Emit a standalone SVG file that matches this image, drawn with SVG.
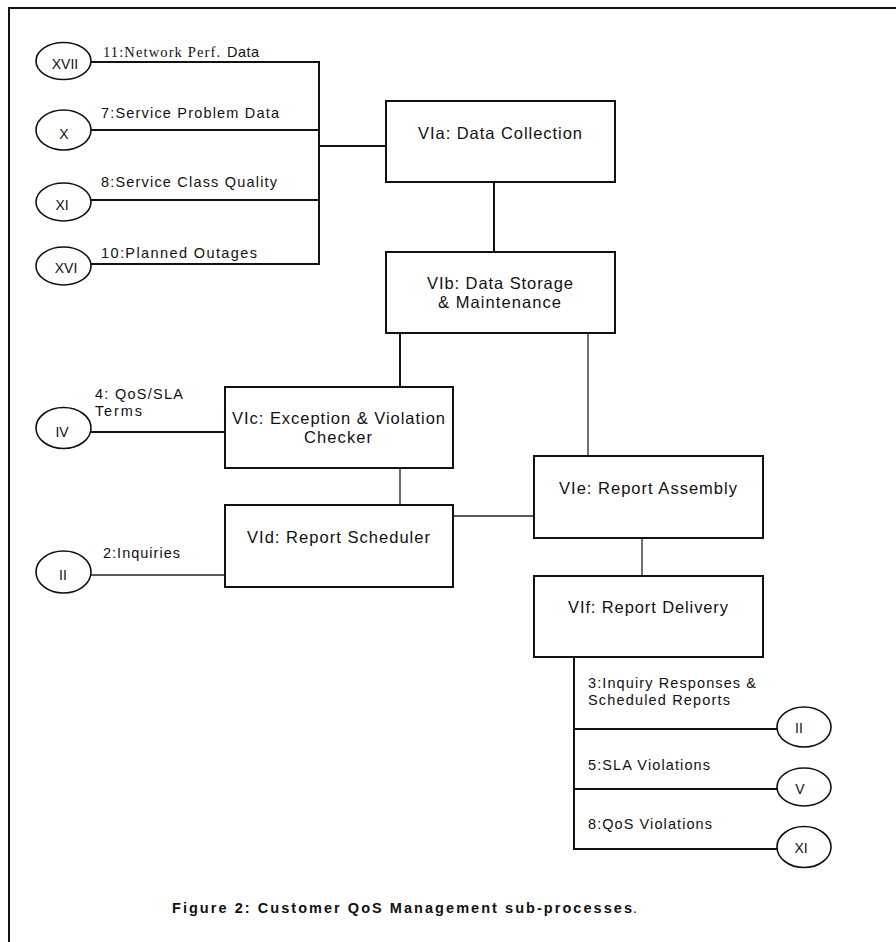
<svg xmlns="http://www.w3.org/2000/svg" width="896" height="942" viewBox="0 0 896 942">
  <style>
    .frame { stroke: #111; stroke-width: 2; fill: none; }
    .box { fill: #fff; stroke: #111; stroke-width: 2; }
    .ext { fill: #fff; stroke: #111; stroke-width: 1.6; }
    .wire { stroke: #111; stroke-width: 2; fill: none; }
    .thin { stroke: #222; stroke-width: 1.3; fill: none; }
    .lbl { font-family: "Liberation Sans", Arial, sans-serif; font-size: 16.5px; fill: #111; }
    .flow { font-family: "Liberation Sans", Arial, sans-serif; font-size: 14.5px; fill: #111; }
    .serif { font-family: "Liberation Serif", "Times New Roman", serif; font-size: 14.5px; fill: #111; }
    .ref { font-family: "Liberation Sans", Arial, sans-serif; font-size: 14px; fill: #111; }
    .cap { font-family: "Liberation Sans", Arial, sans-serif; font-size: 14.5px; font-weight: bold; fill: #111; }
  </style>
  <rect width="896" height="942" fill="#fff"/>

  <!-- page frame (top and left edges) -->
  <path class="frame" d="M9 942 V8 H896"/>

  <!-- connectors -->
  <g id="connectors">
    <path class="wire" d="M91 62 H319 V264 H91"/>
    <path class="wire" d="M91 130 H319"/>
    <path class="wire" d="M91 200 H319"/>
    <path class="wire" d="M319 146 H386"/>
    <path class="wire" d="M494 182 V252"/>
    <path class="wire" d="M400 333 V387"/>
    <path class="thin" d="M588 333 V456"/>
    <path class="wire" d="M91 432 H225"/>
    <path class="thin" d="M400 468 V505"/>
    <path class="thin" d="M91 575 H225"/>
    <path class="thin" d="M453 516 H534"/>
    <path class="thin" d="M642 538 V576"/>
    <path class="wire" d="M574 657 V849 H777"/>
    <path class="wire" d="M574 729 H777"/>
    <path class="wire" d="M574 789 H777"/>

    <text class="serif" x="103" y="57" textLength="117" lengthAdjust="spacing">11:Network Perf.</text>
    <text class="flow" x="227" y="57" textLength="32" lengthAdjust="spacing">Data</text>
    <text class="flow" x="101" y="118" textLength="178" lengthAdjust="spacing">7:Service Problem Data</text>
    <text class="flow" x="101" y="187" textLength="176" lengthAdjust="spacing">8:Service Class Quality</text>
    <text class="flow" x="101" y="258" textLength="156" lengthAdjust="spacing">10:Planned Outages</text>
    <text class="flow" x="95" y="399" textLength="88" lengthAdjust="spacing">4: QoS/SLA</text>
    <text class="flow" x="95" y="416" textLength="47" lengthAdjust="spacing">Terms</text>
    <text class="flow" x="103" y="558" textLength="77" lengthAdjust="spacing">2:Inquiries</text>
    <text class="flow" x="588" y="688" textLength="168" lengthAdjust="spacing">3:Inquiry Responses &amp;</text>
    <text class="flow" x="588" y="705" textLength="142" lengthAdjust="spacing">Scheduled Reports</text>
    <text class="flow" x="588" y="770" textLength="122" lengthAdjust="spacing">5:SLA Violations</text>
    <text class="flow" x="588" y="829" textLength="124" lengthAdjust="spacing">8:QoS Violations</text>
  </g>

  <!-- external process references -->
  <g id="ext-xvii"><ellipse class="ext" cx="63.5" cy="61" rx="27.5" ry="18.5"/><text class="ref" x="65" y="69" text-anchor="middle">XVII</text></g>
  <g id="ext-x"><ellipse class="ext" cx="63.5" cy="130" rx="27.5" ry="20"/><text class="ref" x="64" y="139" text-anchor="middle">X</text></g>
  <g id="ext-xi"><ellipse class="ext" cx="63.5" cy="202" rx="27.5" ry="19"/><text class="ref" x="62" y="210" text-anchor="middle">XI</text></g>
  <g id="ext-xvi"><ellipse class="ext" cx="63.5" cy="266" rx="27.5" ry="19"/><text class="ref" x="66" y="273" text-anchor="middle">XVI</text></g>
  <g id="ext-iv"><ellipse class="ext" cx="63.5" cy="428" rx="27.5" ry="20.5"/><text class="ref" x="62" y="437" text-anchor="middle">IV</text></g>
  <g id="ext-ii-in"><ellipse class="ext" cx="63.5" cy="572" rx="27.5" ry="21"/><text class="ref" x="63" y="580" text-anchor="middle">II</text></g>
  <g id="ext-ii-out"><ellipse class="ext" cx="804" cy="727" rx="27" ry="20"/><text class="ref" x="799" y="733" text-anchor="middle">II</text></g>
  <g id="ext-v"><ellipse class="ext" cx="804" cy="787" rx="27" ry="19"/><text class="ref" x="800" y="794" text-anchor="middle">V</text></g>
  <g id="ext-xi-out"><ellipse class="ext" cx="804" cy="847" rx="27" ry="20.5"/><text class="ref" x="801" y="853" text-anchor="middle">XI</text></g>

  <!-- sub-processes -->
  <g id="via"><rect class="box" x="386" y="101" width="229" height="81"/><text class="lbl" x="418" y="139" textLength="164" lengthAdjust="spacing">VIa: Data Collection</text></g>
  <g id="vib"><rect class="box" x="386" y="252" width="229" height="81"/><text class="lbl" x="427" y="289" textLength="146" lengthAdjust="spacing">VIb: Data Storage</text><text class="lbl" x="438" y="308" textLength="123" lengthAdjust="spacing">&amp; Maintenance</text></g>
  <g id="vic"><rect class="box" x="225" y="387" width="228" height="81"/><text class="lbl" x="232" y="424" textLength="213" lengthAdjust="spacing">VIc: Exception &amp; Violation</text><text class="lbl" x="304" y="443" textLength="68" lengthAdjust="spacing">Checker</text></g>
  <g id="vid"><rect class="box" x="225" y="505" width="228" height="82"/><text class="lbl" x="247" y="543" textLength="183" lengthAdjust="spacing">VId: Report Scheduler</text></g>
  <g id="vie"><rect class="box" x="534" y="456" width="229" height="82"/><text class="lbl" x="559" y="494" textLength="178" lengthAdjust="spacing">VIe: Report Assembly</text></g>
  <g id="vif"><rect class="box" x="534" y="576" width="229" height="81"/><text class="lbl" x="568" y="613" textLength="160" lengthAdjust="spacing">VIf: Report Delivery</text></g>

  <!-- caption -->
  <text class="cap" x="172" y="913" textLength="460" lengthAdjust="spacing">Figure 2: Customer QoS Management sub-processes</text>
  <text class="flow" x="633" y="913">.</text>
</svg>
